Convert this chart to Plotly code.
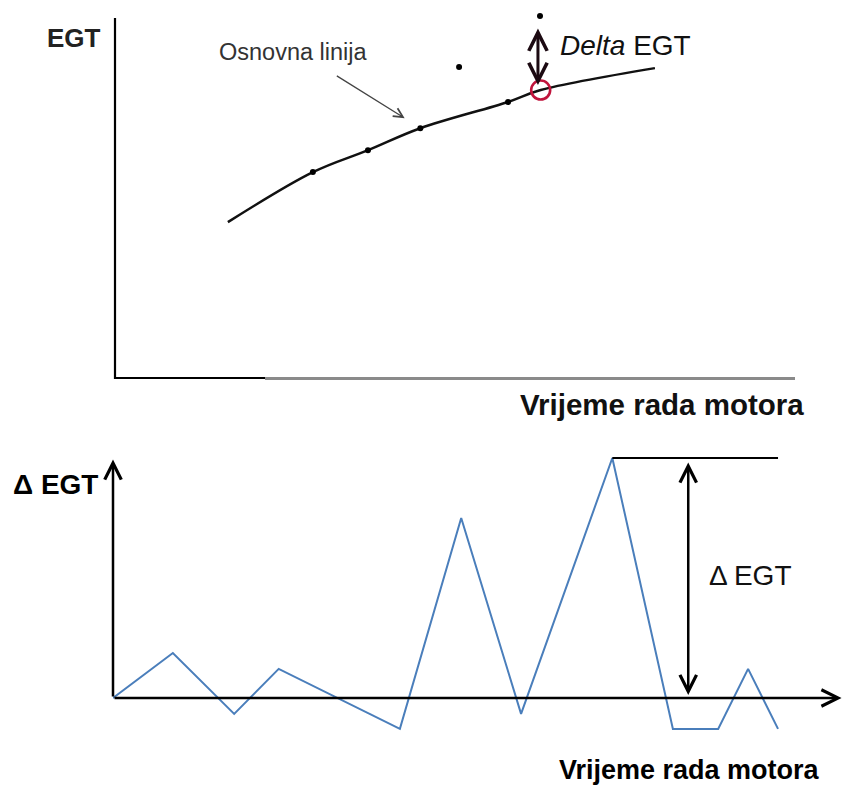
import plotly.graph_objects as go

# ---------------- data ----------------
# Top panel: EGT vs engine operating time (arbitrary units)
baseline_t = [16.6, 29.1, 37.2, 44.9, 57.8, 62.6, 79.4]
baseline_egt = [43.3, 57.2, 63.3, 69.4, 76.7, 80.0, 86.1]
dots_t = [29.1, 37.2, 44.9, 57.8]
dots_egt = [57.2, 63.3, 69.4, 76.7]
outlier_t = [50.6, 62.5]
outlier_egt = [86.4, 100.6]
current_t = [62.6]
current_egt = [80.0]

# Bottom panel: delta EGT vs engine operating time
delta_t = [0, 8.2, 16.6, 22.7, 39.3, 47.7, 55.9, 68.4, 76.7, 82.9, 87.0, 91.1]
delta_egt = [0, 15, -5.3, 9.7, -10.3, 60, -5.3, 80, -10.3, -10.3, 9.7, -10.3]

FONT = "Arial, Liberation Sans, sans-serif"
W, H = 844, 785
BLUE = "#4a7ebb"

fig = go.Figure()

# ---------- top panel ----------
fig.add_trace(go.Scatter(x=baseline_t, y=baseline_egt, mode="lines",
                         line=dict(color="#111", width=2.5, shape="spline", smoothing=1.0),
                         xaxis="x", yaxis="y", hoverinfo="skip"))
fig.add_trace(go.Scatter(x=dots_t, y=dots_egt, mode="markers",
                         marker=dict(color="black", size=6),
                         xaxis="x", yaxis="y", cliponaxis=False))
fig.add_trace(go.Scatter(x=outlier_t, y=outlier_egt, mode="markers",
                         marker=dict(color="black", size=6),
                         xaxis="x", yaxis="y", cliponaxis=False))
fig.add_trace(go.Scatter(x=current_t, y=current_egt, mode="markers",
                         marker=dict(symbol="circle-open", color="#c0143c", size=19,
                                     line=dict(width=2.6, color="#c0143c")),
                         xaxis="x", yaxis="y", cliponaxis=False))

# ---------- bottom panel ----------
fig.add_trace(go.Scatter(x=delta_t, y=delta_egt, mode="lines",
                         line=dict(color=BLUE, width=2),
                         xaxis="x2", yaxis="y2", cliponaxis=False))
peak_i = delta_egt.index(max(delta_egt))
fig.add_trace(go.Scatter(x=[delta_t[peak_i], delta_t[-1]],
                         y=[delta_egt[peak_i], delta_egt[peak_i]], mode="lines",
                         line=dict(color="black", width=2),
                         xaxis="x2", yaxis="y2", cliponaxis=False))

annotations = []

# top panel: "Osnovna linija" arrow
annotations.append(dict(x=42.6, y=72.2, ax=32.4, ay=84.2, xref="x", yref="y",
                        axref="x", ayref="y", text="", showarrow=True,
                        arrowhead=5, arrowsize=1.4, arrowwidth=1.3, arrowcolor="#444"))
# delta EGT double arrow (top)
annotations.append(dict(x=62.2, y=81.4, ax=62.2, ay=97.5, xref="x", yref="y",
                        axref="x", ayref="y", text="", showarrow=True,
                        arrowhead=5, startarrowhead=5, arrowside="end+start",
                        arrowsize=1.2, startarrowsize=1.2, arrowwidth=3, arrowcolor="#1c0a12"))
annotations.append(dict(x=65.1, y=92.5, xref="x", yref="y", xanchor="left", yanchor="middle",
                        text="<i>Delta</i> EGT", showarrow=False,
                        font=dict(family=FONT, size=28, color="#111")))
annotations.append(dict(x=217 / W, y=1 - 52 / H, xref="paper", yref="paper",
                        xanchor="left", yanchor="middle", text="Osnovna linija",
                        showarrow=False, font=dict(family=FONT, size=23.5, color="#333")))
annotations.append(dict(x=103 / W, y=1 - 38 / H, xref="paper", yref="paper",
                        xanchor="right", yanchor="middle", text="<b>EGT</b>",
                        showarrow=False, font=dict(family=FONT, size=26, color="#222")))
annotations.append(dict(x=806 / W, y=1 - 404 / H, xref="paper", yref="paper",
                        xanchor="right", yanchor="middle", text="<b>Vrijeme rada motora</b>",
                        showarrow=False, font=dict(family=FONT, size=29.5, color="#111")))

# bottom panel axes as arrows
annotations.append(dict(x=0, y=79.5, ax=0, ay=0, xref="x2", yref="y2", axref="x2", ayref="y2",
                        text="", showarrow=True, arrowhead=5, arrowsize=1.3,
                        arrowwidth=2.5, arrowcolor="black"))
annotations.append(dict(x=99.8, y=0, ax=0, ay=0, xref="x2", yref="y2", axref="x2", ayref="y2",
                        text="", showarrow=True, arrowhead=5, arrowsize=1.3,
                        arrowwidth=2.5, arrowcolor="black"))
# delta EGT double arrow (bottom)
annotations.append(dict(x=78.8, y=1, ax=78.8, ay=79, xref="x2", yref="y2", axref="x2", ayref="y2",
                        text="", showarrow=True, arrowhead=5, startarrowhead=5,
                        arrowside="end+start", arrowsize=1.3, startarrowsize=1.3,
                        arrowwidth=2.5, arrowcolor="black"))
annotations.append(dict(x=87.3, y=41, xref="x2", yref="y2", xanchor="center", yanchor="middle",
                        text="Δ EGT", showarrow=False,
                        font=dict(family=FONT, size=28, color="#111")))
annotations.append(dict(x=100 / W, y=1 - 484 / H, xref="paper", yref="paper",
                        xanchor="right", yanchor="middle", text="<b>Δ EGT</b>",
                        showarrow=False, font=dict(family=FONT, size=28, color="black")))
annotations.append(dict(x=822 / W, y=1 - 770 / H, xref="paper", yref="paper",
                        xanchor="right", yanchor="middle", text="<b>Vrijeme rada motora</b>",
                        showarrow=False, font=dict(family=FONT, size=27, color="black")))

# top panel axis lines: y-axis (black), x-axis black start then grey remainder
shapes = [
    dict(type="line", xref="paper", yref="paper", x0=115 / W, x1=115 / W,
         y0=1 - 379 / H, y1=1 - 18 / H, line=dict(color="black", width=2.2)),
    dict(type="line", xref="paper", yref="paper", x0=265 / W, x1=795 / W,
         y0=1 - 378.5 / H, y1=1 - 378.5 / H, line=dict(color="#8a8a8a", width=3)),
    dict(type="line", xref="paper", yref="paper", x0=114 / W, x1=265 / W,
         y0=1 - 378 / H, y1=1 - 378 / H, line=dict(color="black", width=2.2)),
]

hidden = dict(showgrid=False, zeroline=False, showticklabels=False, ticks="", showline=False)

fig.update_layout(
    width=W, height=H, margin=dict(l=0, r=0, t=0, b=0),
    paper_bgcolor="white", plot_bgcolor="rgba(0,0,0,0)", showlegend=False,
    xaxis=dict(domain=[115 / W, 795 / W], range=[0, 100], anchor="y", **hidden),
    yaxis=dict(domain=[1 - 378 / H, 1 - 8 / H], range=[0, 102.8], anchor="x", **hidden),
    xaxis2=dict(domain=[113 / W, 843 / W], range=[0, 100], anchor="y2", **hidden),
    yaxis2=dict(domain=[1 - 758 / H, 1 - 440 / H], range=[-20, 86], anchor="x2", **hidden),
    annotations=annotations, shapes=shapes,
)

fig.write_html("out.html", config={"displayModeBar": False},
               post_script="document.body.style.margin='0';")
